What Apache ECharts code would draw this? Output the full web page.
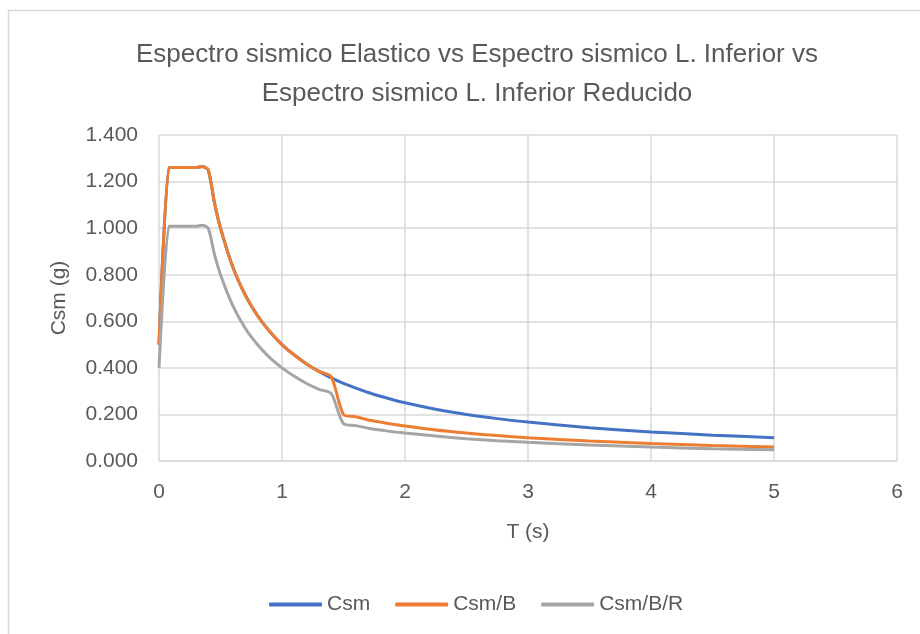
<!DOCTYPE html>
<html>
<head>
<meta charset="utf-8">
<script src="https://cdn.jsdelivr.net/npm/echarts@6/dist/echarts.min.js"></script>
<style>
  html, body { margin: 0; padding: 0; background: #ffffff; }
  #chart { width: 920px; height: 634px; }
</style>
</head>
<body>
<div id="chart"></div>
<script>
// Periods T (s)
const periods = [0, 0.08, 0.1, 0.15, 0.2, 0.25, 0.3, 0.35, 0.4, 0.45, 0.5, 0.6, 0.7, 0.8, 0.9, 1.0,
  1.1, 1.2, 1.3, 1.4, 1.5, 1.6, 1.7, 1.8, 1.9, 2.0, 2.25, 2.5, 2.75, 3.0, 3.5, 4.0, 4.5, 5.0];

// Elastic spectrum Csm (g)
const csm = [0.50, 1.26, 1.26, 1.26, 1.26, 1.26, 1.26, 1.265, 1.25, 1.111, 1.0, 0.833, 0.714, 0.625, 0.556, 0.50,
  0.455, 0.417, 0.385, 0.357, 0.333, 0.313, 0.294, 0.278, 0.263, 0.25, 0.222, 0.20, 0.182, 0.167, 0.143, 0.125, 0.111, 0.10];

// Lower-limit spectrum Csm/B (g)
const csmB = [0.50, 1.26, 1.26, 1.26, 1.26, 1.26, 1.26, 1.265, 1.25, 1.111, 1.0, 0.833, 0.714, 0.625, 0.556, 0.50,
  0.455, 0.417, 0.385, 0.362, 0.20, 0.19, 0.176, 0.167, 0.158, 0.15, 0.133, 0.12, 0.109, 0.10, 0.086, 0.075, 0.067, 0.06];

// Reduced lower-limit spectrum Csm/B/R (g)
const csmBR = [0.40, 1.008, 1.008, 1.008, 1.008, 1.008, 1.008, 1.012, 1.0, 0.889, 0.80, 0.667, 0.571, 0.50, 0.444, 0.40,
  0.364, 0.333, 0.308, 0.29, 0.16, 0.152, 0.141, 0.133, 0.126, 0.12, 0.107, 0.096, 0.087, 0.08, 0.069, 0.06, 0.053, 0.048];

const seriesNames = ['Csm', 'Csm/B', 'Csm/B/R'];
const seriesColors = ['#4472C4', '#ED7D31', '#A5A5A5'];
const seriesValues = [csm, csmB, csmBR];

const titleText = 'Espectro sismico Elastico vs Espectro sismico L. Inferior vs\nEspectro sismico L. Inferior Reducido';
const xName = 'T (s)';
const yName = 'Csm (g)';

const FONT = '"Liberation Sans", Arial, sans-serif';
const TEXT = '#595959';
const GRID = '#d9d9d9';

const pairs = v => periods.map((t, i) => [t, v[i]]);

const chart = echarts.init(document.getElementById('chart'), null, { renderer: 'canvas' });
chart.setOption({
  backgroundColor: '#ffffff',
  animation: false,
  textStyle: { fontFamily: FONT },
  graphic: [{
    type: 'rect',
    shape: { x: 8.5, y: 10.5, width: 1000, height: 1000 },
    style: { fill: 'none', stroke: GRID, lineWidth: 1.5 },
    silent: true
  }],
  title: {
    text: titleText,
    left: 472,
    top: 30,
    textAlign: 'center',
    textStyle: { fontFamily: FONT, fontSize: 26, fontWeight: 'normal', color: TEXT, lineHeight: 39 }
  },
  legend: {
    data: seriesNames,
    icon: 'roundRect',
    left: 264,
    top: 589,
    itemWidth: 53,
    itemHeight: 4,
    itemGap: 25,
    textStyle: { fontFamily: FONT, fontSize: 21, color: TEXT }
  },
  grid: { left: 159, right: 23, top: 135, bottom: 173, containLabel: false },
  xAxis: {
    type: 'value',
    min: 0, max: 6, interval: 1,
    name: xName,
    nameLocation: 'middle',
    nameGap: 61,
    nameTextStyle: { fontFamily: FONT, fontSize: 21, color: TEXT },
    axisLine: { show: true, lineStyle: { color: GRID, width: 1.5 } },
    axisTick: { show: false },
    axisLabel: { margin: 21, fontFamily: FONT, fontSize: 21, color: TEXT },
    splitLine: { show: true, lineStyle: { color: GRID, width: 1.5 } }
  },
  yAxis: {
    type: 'value',
    min: 0, max: 1.4, interval: 0.2,
    name: yName,
    nameLocation: 'middle',
    nameGap: 89,
    nameRotate: 90,
    nameTextStyle: { fontFamily: FONT, fontSize: 21, color: TEXT },
    axisLine: { show: false },
    axisTick: { show: false },
    axisLabel: { margin: 21, fontFamily: FONT, fontSize: 21, color: TEXT, formatter: v => v.toFixed(3) },
    splitLine: { show: true, lineStyle: { color: GRID, width: 1.5 } }
  },
  series: seriesNames.map((name, i) => ({
    name,
    type: 'line',
    data: pairs(seriesValues[i]),
    smooth: 0.25,
    symbol: 'none',
    color: seriesColors[i],
    lineStyle: { color: seriesColors[i], width: 3 }
  }))
});
</script>
</body>
</html>
